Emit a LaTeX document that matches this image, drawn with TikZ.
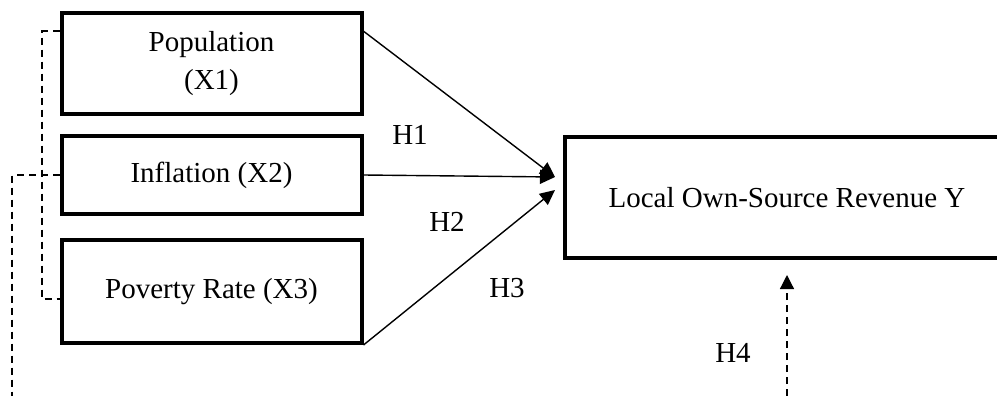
\documentclass[tikz,border=0pt]{standalone}
\usepackage{fontspec}
\setmainfont{Liberation Serif}
\usepackage{tikz}
\usetikzlibrary{arrows.meta}
\usetikzlibrary{positioning}
\tikzset{varbox/.style = {draw, line width = 2pt, rectangle, align = center,
                          minimum width = 150pt, inner sep = 0,
                          font = \fontsize{14.5}{19}\selectfont}}
\tikzset{link/.style = {line width = 0.7pt,
                        -{Triangle[length = 7.5pt, width = 7pt]}}}
\tikzset{dashline/.style = {line width = 0.6pt, dash pattern = on 3.5pt off 2.5pt}}
\tikzset{hlabel/.style = {font = \fontsize{14.5}{17}\selectfont}}

\begin{document}
\begin{tikzpicture}[x = 0.5pt, y = -0.5pt]
      \clip (0, 0) rectangle (997, 396);
      \node [varbox, minimum height = 50.5pt] (pop) at (211.5, 63.5) {Population\\(X1)};
      \node [varbox, minimum height = 39pt] (inf) at (211.5, 175) {Inflation (X2)};
      \node [varbox, minimum height = 51.5pt] (pov) at (211.5, 291.5) {Poverty Rate (X3)};
      \node [varbox, minimum width = 222pt, minimum height = 60.5pt] (pad) at (787, 197.5)
            {Local Own-Source Revenue Y};
      \coordinate (t1) at ([xshift = -4pt, yshift = 10.25pt] pad.west);
      \coordinate (t3) at ([xshift = -4pt, yshift = 3.75pt] pad.west);
      \coordinate (t4) at ([yshift = -7.5pt] pad.south);
      \coordinate (m1) at (12, 420);
      \coordinate (m4) at (t4 |- m1);
      \draw [link] (pop.12) -- (t1);
      \draw [link] (inf.east) -- (t1);
      \draw [link] (pov.south east) -- (t3);
      \draw [dashline] ([yshift = 16.25pt] pop.west) -| (42, 299) -- ([yshift = -3.75pt] pov.west);
      \draw [dashline] (inf.west) -| (m1);
      \draw [dashline, -{Triangle[length = 7pt, width = 7pt]}] (m4) -- (t4);
      \node [hlabel] (h1) at (410, 135) {H1};
      \node [hlabel] (h2) at (447, 222) {H2};
      \node [hlabel] (h3) at (507, 288) {H3};
      \node [hlabel] (h4) at (733, 353) {H4};
    \end{tikzpicture}
\end{document}
